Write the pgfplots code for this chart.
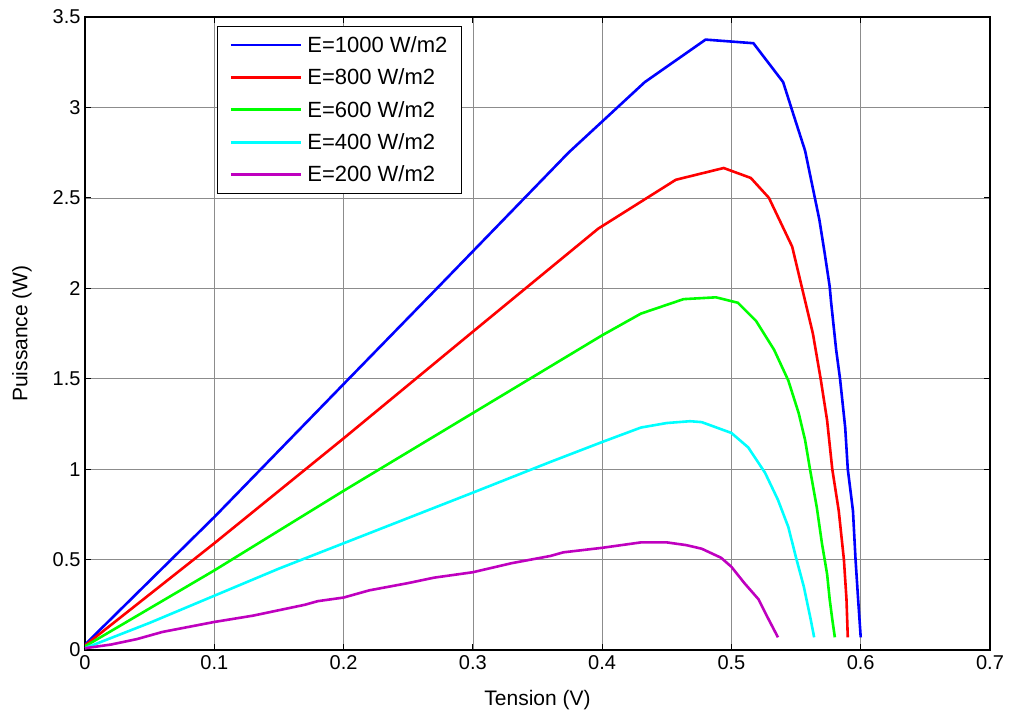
\documentclass[border=0pt]{standalone}
\usepackage{fontspec}
\setmainfont{Liberation Sans}
\usepackage{pgfplots}
\pgfplotsset{compat=1.18}
\definecolor{mblue}{RGB}{0,0,255}
\definecolor{mred}{RGB}{255,0,0}
\definecolor{mgreen}{RGB}{0,255,0}
\definecolor{mcyan}{RGB}{0,255,255}
\definecolor{mmag}{RGB}{191,0,191}
\begin{document}
\begin{tikzpicture}
\begin{axis}[
  scale only axis,
  width=905pt, height=633pt,
  xmin=0, xmax=0.7, ymin=0, ymax=3.5,
  xtick={0,0.1,0.2,0.3,0.4,0.5,0.6,0.7},
  ytick={0,0.5,1,1.5,2,2.5,3,3.5},
  xticklabels={0,0.1,0.2,0.3,0.4,0.5,0.6,0.7},
  yticklabels={0,0.5,1,1.5,2,2.5,3,3.5},
  tick align=inside,
  major tick length=6pt,
  grid=major,
  major grid style={draw=black!45, line width=0.6pt},
  axis line style={line width=1.2pt},
  tick style={black, line width=0.8pt},
  ticklabel style={font=\fontsize{20}{24}\selectfont},
  xticklabel style={yshift=-2pt},
  yticklabel style={xshift=-1pt},
  xlabel={Tension (V)},
  ylabel={Puissance (W)},
  label style={font=\fontsize{21}{25}\selectfont},
  xlabel style={yshift=-14pt},
  ylabel style={yshift=14pt},
  legend style={at={(0.146,0.986)}, anchor=north west, draw=black, line width=0.8pt,
    font=\fontsize{22}{26}\selectfont, row sep=11pt, column sep=3pt,
    inner xsep=12pt, inner ysep=8pt,
    cells={anchor=west}},
  legend image code/.code={\draw[#1, line width=2.8pt] (0pt,0pt) -- (70pt,0pt);},
  every axis plot/.append style={line width=2.6pt},
]
\addplot[mblue] coordinates {(0,0.03) (0.1,0.735) (0.2,1.47) (0.275,2.02) (0.374,2.75) (0.433,3.14) (0.480,3.375) (0.517,3.355) (0.540,3.14) (0.548,2.96) (0.557,2.76) (0.568,2.38) (0.572,2.2) (0.576,2.01) (0.577,1.93) (0.581,1.66) (0.584,1.50) (0.588,1.23) (0.590,1.00) (0.594,0.77) (0.596,0.50) (0.598,0.28) (0.600,0.07)};
\addlegendentry{E=1000 W/m2}
\addplot[mred] coordinates {(0,0.025) (0.1,0.59) (0.2,1.17) (0.3,1.76) (0.397,2.33) (0.457,2.60) (0.494,2.665) (0.515,2.61) (0.529,2.50) (0.547,2.23) (0.557,1.93) (0.563,1.75) (0.569,1.50) (0.574,1.27) (0.578,1.00) (0.583,0.77) (0.587,0.50) (0.589,0.28) (0.590,0.07)};
\addlegendentry{E=800 W/m2}
\addplot[mgreen] coordinates {(0,0.02) (0.1,0.44) (0.2,0.88) (0.3,1.31) (0.4,1.74) (0.43,1.86) (0.463,1.94) (0.488,1.95) (0.505,1.92) (0.519,1.82) (0.533,1.66) (0.544,1.49) (0.552,1.31) (0.557,1.16) (0.561,0.99) (0.566,0.79) (0.570,0.59) (0.574,0.42) (0.576,0.28) (0.578,0.17) (0.580,0.07)};
\addlegendentry{E=600 W/m2}
\addplot[mcyan] coordinates {(0,0.01) (0.05,0.15) (0.1,0.30) (0.15,0.45) (0.2,0.59) (0.25,0.73) (0.3,0.87) (0.36,1.04) (0.4,1.15) (0.43,1.23) (0.45,1.255) (0.468,1.265) (0.477,1.26) (0.5,1.20) (0.513,1.12) (0.526,0.98) (0.536,0.83) (0.544,0.68) (0.550,0.51) (0.556,0.35) (0.561,0.18) (0.564,0.07)};
\addlegendentry{E=400 W/m2}
\addplot[mmag] coordinates {(0,0.01) (0.02,0.03) (0.04,0.06) (0.06,0.10) (0.1,0.155) (0.13,0.19) (0.17,0.25) (0.18,0.27) (0.2,0.29) (0.22,0.33) (0.25,0.37) (0.27,0.40) (0.3,0.43) (0.33,0.48) (0.36,0.52) (0.37,0.54) (0.40,0.565) (0.42,0.585) (0.43,0.595) (0.45,0.595) (0.465,0.58) (0.477,0.56) (0.492,0.51) (0.5,0.46) (0.510,0.37) (0.521,0.28) (0.528,0.18) (0.536,0.07)};
\addlegendentry{E=200 W/m2}
\end{axis}
\path (current axis.south west) ++(-85pt,-63pt) rectangle ++(1011pt,713pt);
\end{tikzpicture}
\end{document}
